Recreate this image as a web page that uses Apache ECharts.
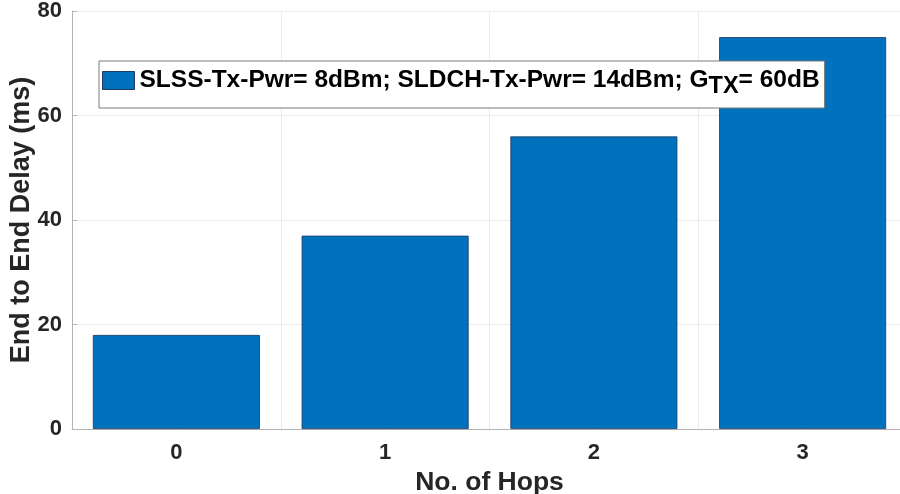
<!DOCTYPE html>
<html>
<head>
<meta charset="utf-8">
<script src="https://cdn.jsdelivr.net/npm/echarts@6/dist/echarts.min.js"></script>
<style>
  html, body { margin: 0; padding: 0; background: #ffffff; }
  #chart { width: 900px; height: 494px; }
</style>
</head>
<body>
<div id="chart"></div>
<script>
// Hop counts and measured end-to-end delay
const hops = ['0', '1', '2', '3'];
const delayMs = [18, 37, 56, 75];
const yTicks = [0, 20, 40, 60, 80];

const seriesName = 'SLSS-Tx-Pwr= 8dBm; SLDCH-Tx-Pwr= 14dBm; G_TX= 60dB';

const FONT = '"Liberation Sans", Arial, Helvetica, sans-serif';
const TEXT = '#262626';

const chart = echarts.init(document.getElementById('chart'), null, { renderer: 'canvas' });

chart.setOption({
  animation: false,
  backgroundColor: '#ffffff',
  grid: { left: 72, top: 11, width: 835, height: 418, containLabel: false, outerBoundsMode: 'none' },
  legend: {
    show: true,
    left: 99,
    top: 61,
    orient: 'horizontal',
    backgroundColor: '#ffffff',
    borderColor: '#7a7a7a',
    borderWidth: 1,
    borderRadius: 0,
    padding: [7, 5, 9, 3],
    itemWidth: 32,
    itemHeight: 18,
    itemGap: 4,
    data: [{ name: seriesName, icon: 'rect', itemStyle: { borderColor: '#1f3a5f', borderWidth: 1 } }],
    formatter: function () {
      return '{t|SLSS-Tx-Pwr= 8dBm; SLDCH-Tx-Pwr= 14dBm; G}{s|TX}{t|= 60dB}';
    },
    textStyle: {
      fontFamily: FONT,
      fontWeight: 'bold',
      fontSize: 24.5,
      color: '#000000',
      rich: {
        t: { fontFamily: FONT, fontWeight: 'bold', fontSize: 24.5, color: '#000000', height: 29 },
        s: { fontFamily: FONT, fontWeight: 'bold', fontSize: 23.5, color: '#000000', verticalAlign: 'bottom', padding: [13, 0, 0, 0], height: 29 }
      }
    }
  },
  xAxis: {
    type: 'category',
    data: hops,
    name: 'No. of Hops',
    nameLocation: 'middle',
    nameGap: 34,
    nameTextStyle: { fontFamily: FONT, fontWeight: 'bold', fontSize: 26.5, color: TEXT },
    axisLine: { show: true, lineStyle: { color: '#b3b3b3', width: 1 } },
    axisTick: { show: true, inside: true, alignWithLabel: true, length: 5, lineStyle: { color: '#b3b3b3' } },
    axisLabel: { fontFamily: FONT, fontWeight: 'bold', fontSize: 22, color: TEXT, margin: 13 },
    splitLine: { show: true, lineStyle: { color: '#ebebeb', width: 1 } },
    boundaryGap: true
  },
  yAxis: {
    type: 'value',
    min: yTicks[0],
    max: yTicks[yTicks.length - 1],
    interval: 20,
    name: 'End to End Delay (ms)',
    nameLocation: 'middle',
    nameMoveOverlap: false,
    nameGap: 37,
    nameTextStyle: { fontFamily: FONT, fontWeight: 'bold', fontSize: 27, color: TEXT },
    axisLine: { show: true, lineStyle: { color: '#b3b3b3', width: 1 } },
    axisTick: { show: true, inside: true, length: 5, lineStyle: { color: '#b3b3b3' } },
    axisLabel: { fontFamily: FONT, fontWeight: 'bold', fontSize: 22, color: TEXT, margin: 10 },
    splitLine: { show: true, lineStyle: { color: '#ebebeb', width: 1 } }
  },
  series: [{
    name: seriesName,
    type: 'bar',
    data: delayMs,
    barWidth: '80%',
    itemStyle: { color: '#0072bd', borderColor: '#1f3a5f', borderWidth: 0.8 }
  }]
});
</script>
</body>
</html>
